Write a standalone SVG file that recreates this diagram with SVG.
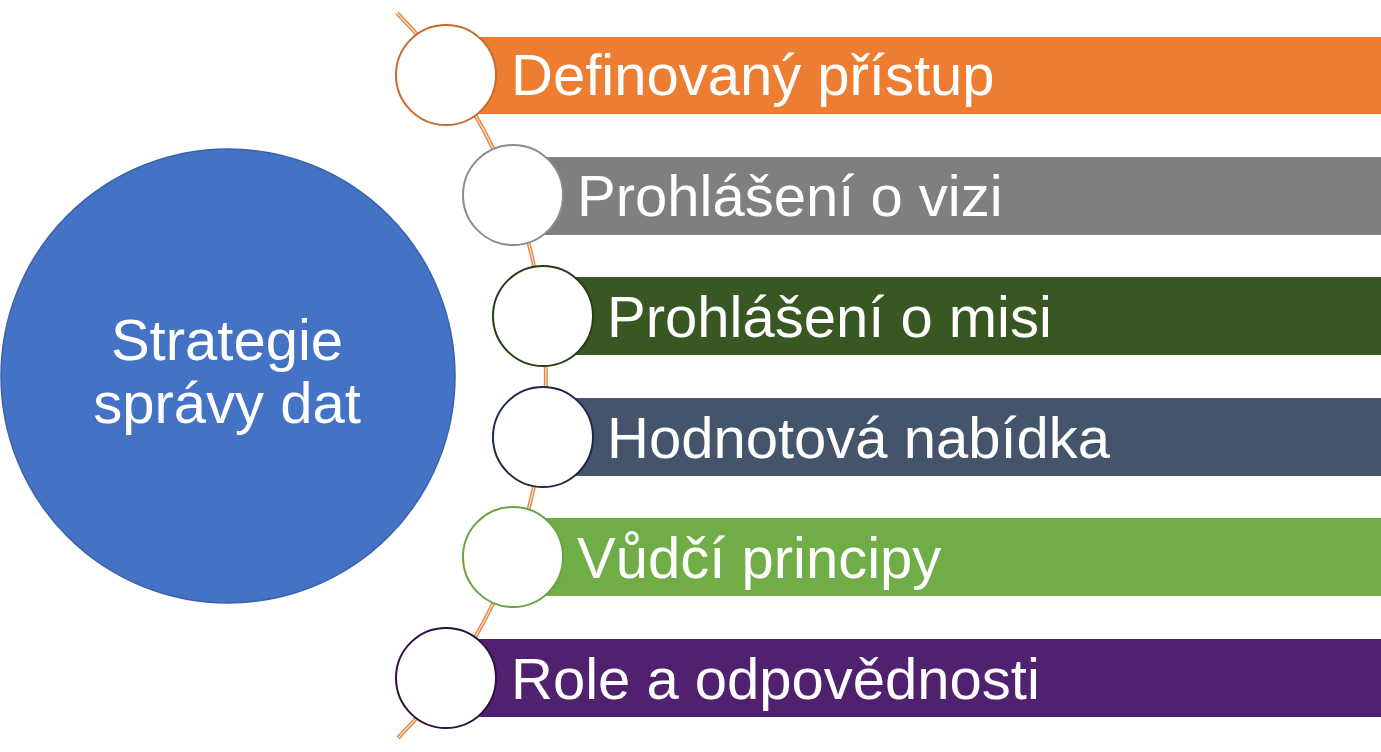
<svg xmlns="http://www.w3.org/2000/svg" width="1381" height="752" viewBox="0 0 1381 752">
  <style>
    .lbl { font-family: "Liberation Sans", Arial, sans-serif; font-size: 58px; fill: #FFFFFF; }
    .ctr { font-family: "Liberation Sans", Arial, sans-serif; font-size: 58px; fill: #FFFFFF; text-anchor: middle; }
    .dot { fill: #FFFFFF; stroke-width: 2; }
  </style>
  <rect width="1381" height="752" fill="#FFFFFF"/>
  <g id="connectors">
    <path d="M397 13 A517 517 0 0 1 398 738" fill="none" stroke="#E2894A" stroke-width="4"/>
    <path d="M397 13 A517 517 0 0 1 398 738" fill="none" stroke="#FBE0C8" stroke-width="1.2"/>
  </g>
  <g id="center">
    <circle cx="228" cy="376" r="227" fill="#4472C4" stroke="#3A62A8" stroke-width="1.5"/>
    <text class="ctr" x="227" y="360">Strategie</text>
    <text class="ctr" x="227" y="423">správy dat</text>
  </g>
  <g id="item1">
    <rect x="446" y="37" width="935" height="77" fill="#ED7D31"/>
    <circle class="dot" cx="446" cy="75" r="50" stroke="#C96A2C"/>
    <text class="lbl" x="511" y="95">Definovaný přístup</text>
  </g>
  <g id="item2">
    <rect x="513" y="157" width="868" height="78" fill="#7F7F7F"/>
    <circle class="dot" cx="513" cy="195" r="50" stroke="#8C8C8C"/>
    <text class="lbl" x="577" y="216">Prohlášení o vizi</text>
  </g>
  <g id="item3">
    <rect x="543" y="277" width="838" height="78" fill="#385723"/>
    <circle class="dot" cx="543" cy="316" r="50" stroke="#243E14"/>
    <text class="lbl" x="607" y="337">Prohlášení o misi</text>
  </g>
  <g id="item4">
    <rect x="543" y="398" width="838" height="78" fill="#44546A"/>
    <circle class="dot" cx="543" cy="437" r="50" stroke="#1E2A48"/>
    <text class="lbl" x="607" y="458">Hodnotová nabídka</text>
  </g>
  <g id="item5">
    <rect x="513" y="518" width="868" height="78" fill="#70AD47"/>
    <circle class="dot" cx="513" cy="557" r="50" stroke="#6AA343"/>
    <text class="lbl" x="577" y="578">Vůdčí principy</text>
  </g>
  <g id="item6">
    <rect x="446" y="639" width="935" height="78" fill="#50216F"/>
    <circle class="dot" cx="446" cy="678" r="50" stroke="#2E1142"/>
    <text class="lbl" x="511" y="699">Role a odpovědnosti</text>
  </g>
</svg>
